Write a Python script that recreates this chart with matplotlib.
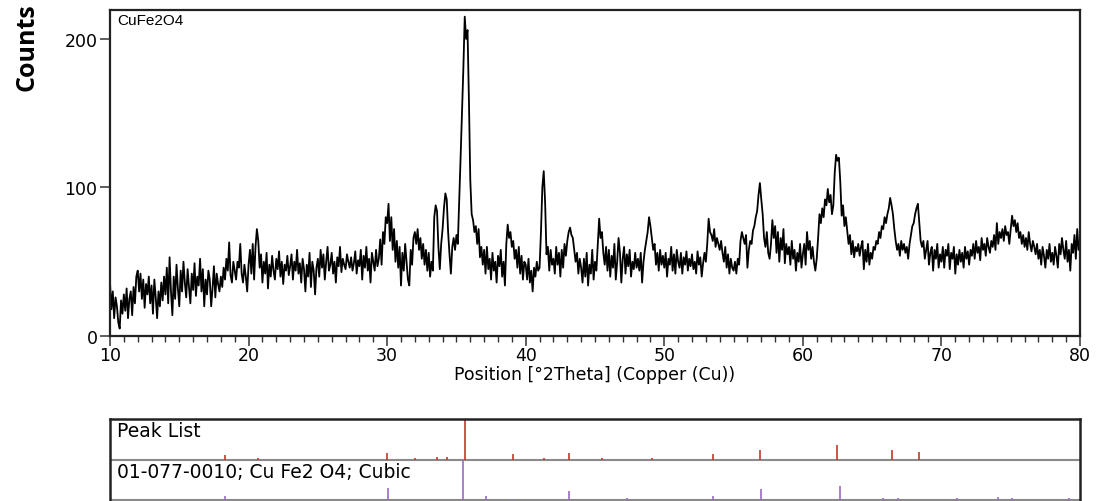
import numpy as np
import matplotlib
matplotlib.use("Agg")
import matplotlib.pyplot as plt

# ---------------- data ----------------
two_theta_start = 10.0
two_theta_step = 0.1
counts = [
    36, 18, 30, 12, 26, 20, 9, 5, 24, 15,      # 10
    28, 17, 32, 12, 25, 30, 14, 33, 22, 40,    # 11
    44, 30, 42, 25, 38, 19, 35, 28, 40, 22,    # 12
    34, 15, 38, 26, 12, 30, 20, 36, 24, 40,    # 13
    28, 46, 22, 53, 30, 14, 40, 25, 48, 32,    # 14
    20, 44, 30, 50, 36, 26, 45, 33, 22, 42,    # 15
    31, 49, 27, 40, 34, 52, 30, 45, 20, 38,    # 16
    28, 44, 38, 20, 32, 47, 26, 42, 35, 30,    # 17
    40, 33, 46, 38, 52, 44, 63, 41, 36, 50,    # 18
    44, 38, 50, 46, 62, 42, 36, 48, 40, 30,    # 19
    48, 58, 42, 62, 38, 60, 72, 64, 46, 55,    # 20
    36, 50, 42, 56, 32, 48, 40, 54, 44, 38,    # 21
    52, 45, 57, 40, 50, 35, 48, 44, 54, 41,    # 22
    47, 55, 38, 50, 44, 58, 42, 49, 36, 52,    # 23
    45, 30, 48, 40, 56, 33, 50, 44, 28, 46,    # 24
    52, 40, 58, 46, 55, 38, 50, 60, 44, 48,    # 25
    56, 42, 50, 36, 53, 47, 60, 43, 52, 48,    # 26
    45, 55, 50, 46, 53, 44, 49, 57, 42, 51,    # 27
    47, 58, 38, 54, 46, 60, 44, 52, 36, 56,    # 28
    50, 44, 58, 47, 52, 65, 48, 70, 62, 80,    # 29
    76, 89, 64, 80, 58, 72, 50, 64, 46, 60,    # 30
    34, 56, 44, 62, 50, 38, 34, 58, 48, 66,    # 31
    70, 62, 72, 58, 66, 52, 62, 48, 58, 44,    # 32
    56, 40, 50, 44, 80, 88, 84, 60, 45, 62,    # 33
    72, 86, 96, 92, 70, 55, 42, 60, 66, 58,    # 34
    68, 62, 90, 120, 150, 180, 215, 200, 206, 160,  # 35
    105, 82, 78, 70, 74, 62, 72, 53, 60, 48,   # 36
    58, 42, 60, 45, 52, 38, 56, 44, 50, 36,    # 37
    54, 47, 58, 40, 50, 34, 62, 75, 66, 70,    # 38
    60, 64, 52, 58, 46, 60, 42, 54, 38, 50,    # 39
    48, 38, 52, 36, 44, 30, 46, 40, 50, 44,    # 40
    46, 70, 100, 111, 90, 55, 60, 44, 58, 48,  # 41
    52, 42, 60, 48, 56, 40, 58, 46, 62, 54,    # 42
    64, 70, 73, 68, 66, 58, 50, 56, 42, 52,    # 43
    46, 36, 52, 40, 56, 34, 48, 42, 58, 38,    # 44
    50, 44, 62, 79, 66, 70, 56, 48, 60, 44,    # 45
    58, 40, 54, 46, 62, 38, 50, 66, 56, 36,    # 46
    52, 60, 42, 55, 47, 58, 40, 50, 45, 56,    # 47
    46, 52, 44, 56, 36, 50, 58, 64, 70, 80,    # 48
    74, 66, 58, 62, 48, 56, 44, 58, 48, 54,    # 49
    46, 56, 40, 52, 48, 60, 44, 55, 42, 58,    # 50
    50, 46, 56, 42, 53, 48, 57, 44, 52, 47,    # 51
    55, 45, 50, 42, 57, 48, 53, 40, 49, 56,    # 52
    50, 62, 79, 70, 68, 64, 72, 60, 66, 62,    # 53
    58, 64, 56, 50, 60, 46, 55, 42, 52, 46,    # 54
    44, 50, 42, 52, 48, 64, 70, 66, 62, 68,    # 55
    46, 58, 64, 62, 71, 74, 80, 84, 95, 103,   # 56
    92, 82, 66, 60, 70, 56, 52, 62, 78, 66,    # 57
    74, 56, 70, 50, 66, 58, 72, 49, 62, 55,    # 58
    60, 48, 64, 52, 58, 44, 56, 50, 62, 46,    # 59
    55, 62, 48, 70, 58, 64, 52, 60, 50, 44,    # 60
    52, 66, 82, 76, 86, 80, 92, 88, 99, 90,    # 61
    95, 82, 88, 110, 122, 118, 120, 104, 81, 88,  # 62
    74, 80, 71, 62, 68, 55, 64, 53, 60, 57,    # 63
    62, 54, 60, 64, 45, 58, 50, 62, 48, 56,    # 64
    52, 60, 58, 64, 62, 70, 66, 74, 72, 80,    # 65
    76, 82, 86, 93, 88, 82, 72, 64, 58, 62,    # 66
    54, 64, 58, 62, 56, 60, 52, 62, 68, 74,    # 67
    76, 82, 86, 89, 76, 64, 60, 64, 52, 58,    # 68
    64, 48, 56, 60, 44, 58, 52, 62, 46, 55,    # 69
    50, 60, 46, 58, 54, 62, 45, 56, 52, 60,    # 70
    42, 55, 48, 58, 50, 56, 46, 60, 52, 57,    # 71
    48, 58, 54, 62, 52, 64, 56, 60, 51, 66,    # 72
    58, 62, 54, 66, 60, 56, 64, 60, 68, 58,    # 73
    76, 62, 70, 66, 72, 64, 74, 68, 70, 62,    # 74
    72, 81, 74, 78, 70, 76, 66, 70, 62, 68,    # 75
    60, 66, 58, 70, 62, 57, 64, 60, 55, 62,    # 76
    52, 58, 48, 60, 54, 46, 58, 52, 62, 50,    # 77
    56, 48, 60, 54, 46, 62, 55, 66, 58, 52,    # 78
    64, 50, 58, 44, 62, 56, 68, 52, 72, 58,    # 79
    60,                                         # 80
]

peak_list_pos = [18.3, 20.65, 30.0, 32.0, 33.6, 34.3, 35.65, 39.05, 41.3, 43.15,
                 45.5, 49.1, 53.5, 56.9, 62.5, 66.4, 68.4]
peak_list_height = [0.10, 0.03, 0.17, 0.03, 0.05, 0.05, 1.00, 0.14, 0.04, 0.17,
                    0.04, 0.04, 0.14, 0.24, 0.36, 0.24, 0.19]

ref_pos = [18.3, 30.05, 35.45, 37.1, 39.0, 43.1, 47.3, 53.5, 57.0, 62.7,
           65.8, 66.9, 71.1, 74.1, 75.1, 79.2]
ref_height = [0.10, 0.30, 1.00, 0.10, 0.03, 0.22, 0.05, 0.10, 0.27, 0.35,
              0.04, 0.04, 0.04, 0.07, 0.05, 0.05]

sample_label = "CuFe2O4"
ref_label = "01-077-0010; Cu Fe2 O4; Cubic"
peak_label = "Peak List"
x_label = "Position [°2Theta] (Copper (Cu))"
y_label = "Counts"

# ---------------- figure ----------------
W, H = 1098, 502
fig = plt.figure(figsize=(W / 100, H / 100), dpi=100)
plt.rcParams['font.family'] = ['DejaVu Sans']

def fx(px):
    return px / W

def fy(py):
    return 1 - py / H

ax_left, ax_right = 110, 1080
ax = fig.add_axes([fx(ax_left), fy(337), fx(ax_right - ax_left), (337 - 11) / H])
x = two_theta_start + two_theta_step * np.arange(len(counts))
ax.plot(x, counts, color='black', lw=1.3)
ax.set_xlim(10, 80)
ax.set_ylim(0, 219.5)
ax.set_xticks([10, 20, 30, 40, 50, 60, 70, 80])
ax.set_xticks(np.arange(10, 81, 1), minor=True)
ax.set_yticks([0, 100, 200])
ax.tick_params(axis='both', which='major', direction='out', length=7, width=1.1,
               labelsize=12.5, color='#333333')
ax.tick_params(axis='x', which='minor', direction='out', length=4, width=1.0, color='#333333')
ax.tick_params(axis='x', pad=0)
ax.tick_params(axis='y', pad=2)
for s in ax.spines.values():
    s.set_linewidth(1.6)
    s.set_color('#222222')
ax.set_xlabel(x_label, fontsize=12.5, labelpad=1)
ax.text(0.007, 0.992, sample_label, transform=ax.transAxes, ha='left', va='top',
        fontsize=11, family=['Liberation Sans', 'DejaVu Sans'])

fig.text(fx(27), fy(47), y_label, rotation=90, ha='center', va='center',
         fontsize=18, fontweight='bold', family=['Open Sans', 'DejaVu Sans'])

# ---------------- lower stick panel ----------------
top_px, base2_px, bottom_px = 420, 501, 522
unit = (base2_px - top_px) / 2.0
ymin = -(bottom_px - base2_px) / unit
bx = fig.add_axes([fx(ax_left), fy(bottom_px), fx(ax_right - ax_left), (bottom_px - top_px) / H])
bx.set_xlim(10, 80)
bx.set_ylim(ymin, 2)
bx.set_xticks([])
bx.set_yticks([])
bx.spines['bottom'].set_visible(False)
for k in ['top', 'left', 'right']:
    bx.spines[k].set_linewidth(1.8)
    bx.spines[k].set_color('#222222')
bx.axhline(1, color='#8a8a8a', lw=1.5)
bx.axhline(0, color='#8a8a8a', lw=1.5)
bx.vlines(peak_list_pos, 1, [1 + h for h in peak_list_height], color='#c0392b', lw=1.2)
bx.vlines(ref_pos, 0, ref_height, color='#9b6bc2', lw=1.2)
bx.text(10.5, 1.95, peak_label, ha='left', va='top', fontsize=13.5)
bx.text(10.5, 0.95, ref_label, ha='left', va='top', fontsize=13.5)

fig.savefig("out.png", dpi=100)
